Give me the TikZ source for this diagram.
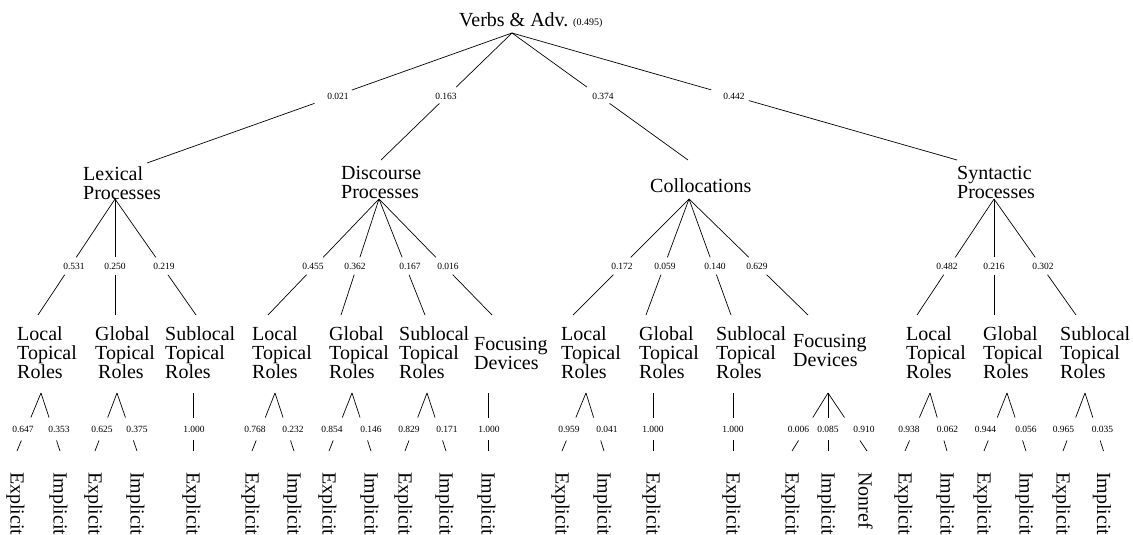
\documentclass[tikz,border=0pt]{standalone}
\usepackage{fontspec}
\setmainfont{Liberation Serif}
% level-1 branch: name, label x, prob, end name
\newcommand\branchA[4]{%
  \path (r) -- (#4) coordinate[pos=0.49] (#1m);
  \node[gapA] (#1g) at (#1m) {};
  \node[lbl] (#1) at (#2,96) {#3};
  \draw[edge] (r) -- (#1g) -- (#4);}
% level-2 branch: parent join, name, label x, prob, end x, text x, text top, text, apex x
\newcommand\branchB[9]{%
  \coordinate (#2i) at (#5,315);
  \node[txt] (#2) at (#6,#7) {#8};
  \coordinate (#2a) at (#9,393);
  \path (#1) -- (#2i) coordinate[pos=0.5776] (#2m);
  \node[gapB] (#2g) at (#2m) {};
  \node[lbl] (#2p) at (#3,266) {#4};
  \draw[edge] (#1) -- (#2g) -- (#2i);}
% level-3 branch: apex, name, label x, prob, end x, text
\newcommand\branchC[6]{%
  \coordinate (#2e) at (#5,451);
  \node[leaf] (#2) at (#5-1.5,472) {#6};
  \path (#1) -- (#2e) coordinate[pos=0.6207] (#2m);
  \node[gapC] (#2g) at (#2m) {};
  \node[lbl] (#2p) at (#3,429) {#4};
  \draw[edge] (#1) -- (#2g) -- (#2e);}
\begin{document}
\begin{tikzpicture}[x=1pt,y=-1pt,
  edge/.style={line width=0.7pt},
  txt/.style={font=\fontsize{20}{19}\selectfont, align=left, inner sep=0pt, anchor=north west},
  leaf/.style={font=\fontsize{20}{19}\selectfont, rotate=-90, anchor=west, inner sep=0pt},
  lbl/.style={font=\fontsize{9.5}{10}\selectfont, inner sep=0pt},
  gapA/.style={inner sep=0pt, minimum width=37pt, minimum height=16pt},
  gapB/.style={inner sep=0pt, minimum width=25pt, minimum height=17pt},
  gapC/.style={inner sep=0pt, minimum width=25pt, minimum height=22.5pt},
  small/.style={font=\fontsize{10}{10}\selectfont, inner sep=0pt}]
\useasboundingbox[fill=white] (0,0) rectangle (1133,535);

% root
\coordinate (r) at (512,33);
\node[txt] (rt) at (459,12.5) {Verbs \& Adv.};
\node[small, anchor=base west] (rp) at (573,26) {(0.495)};

% level 1
\node[txt] (lex) at (83,166.5) {Lexical\\Processes};
\coordinate (lexj) at (115,199);
\coordinate (lexi) at (147,163);
\branchA{p1}{338}{0.021}{lexi}

\node[txt] (dis) at (341,166.5) {Discourse\\Processes};
\coordinate (disj) at (379,199);
\coordinate (disi) at (381,160);
\branchA{p2}{446}{0.163}{disi}

\node[txt] (col) at (650,178.5) {Collocations};
\coordinate (colj) at (689,199);
\coordinate (coli) at (688,160);
\branchA{p3}{603}{0.374}{coli}

\node[txt] (syn) at (957,166.5) {Syntactic\\Processes};
\coordinate (synj) at (994,199);
\coordinate (syni) at (957,160);
\branchA{p4}{734}{0.442}{syni}

% level 2
\branchB{lexj}{lexL}{74}{0.531}{38}{17}{326.3}{Local\\Topical\\Roles}{41}
\branchB{lexj}{lexG}{115}{0.250}{115}{95}{326.3}{Global\\Topical\\\hspace*{3pt}Roles}{117}
\branchB{lexj}{lexS}{164}{0.219}{196}{165}{326.3}{Sublocal\\Topical\\Roles}{193}
\branchB{disj}{disL}{313}{0.455}{268}{252}{326.3}{Local\\Topical\\Roles}{275}
\branchB{disj}{disG}{355}{0.362}{341}{329}{326.3}{Global\\Topical\\Roles}{352}
\branchB{disj}{disS}{410}{0.167}{425}{399}{326.3}{Sublocal\\Topical\\Roles}{427}
\branchB{disj}{disF}{448}{0.016}{492}{474}{337.5}{Focusing\\Devices}{488}
\branchB{colj}{colL}{622}{0.172}{573}{561}{326.3}{Local\\Topical\\Roles}{586}
\branchB{colj}{colG}{665}{0.059}{646}{639}{326.3}{Global\\Topical\\Roles}{653}
\branchB{colj}{colS}{715}{0.140}{731}{716}{326.3}{Sublocal\\Topical\\Roles}{733}
\branchB{colj}{colF}{757}{0.629}{808}{793}{334.5}{Focusing\\Devices}{828}
\branchB{synj}{synL}{947}{0.482}{917}{906}{326.3}{Local\\Topical\\Roles}{930}
\branchB{synj}{synG}{994}{0.216}{994}{983}{326.3}{Global\\Topical\\Roles}{1007}
\branchB{synj}{synS}{1043}{0.302}{1076}{1060}{326.3}{Sublocal\\Topical\\Roles}{1085}

% level 3
\branchC{lexLa}{lexLE}{23}{0.647}{17}{Explicit}
\branchC{lexLa}{lexLI}{59}{0.353}{60}{Implicit}
\branchC{lexGa}{lexGE}{102}{0.625}{95}{Explicit}
\branchC{lexGa}{lexGI}{137}{0.375}{137}{Implicit}
\branchC{lexSa}{lexSE}{194}{1.000}{193}{Explicit}
\branchC{disLa}{disLE}{255}{0.768}{252}{Explicit}
\branchC{disLa}{disLI}{293}{0.232}{294}{Implicit}
\branchC{disGa}{disGE}{332}{0.854}{329}{Explicit}
\branchC{disGa}{disGI}{371}{0.146}{371}{Implicit}
\branchC{disSa}{disSE}{409}{0.829}{405}{Explicit}
\branchC{disSa}{disSI}{447}{0.171}{446}{Implicit}
\branchC{disFa}{disFI}{489}{1.000}{488}{Implicit}
\branchC{colLa}{colLE}{569}{0.959}{562}{Explicit}
\branchC{colLa}{colLI}{607}{0.041}{604}{Implicit}
\branchC{colGa}{colGE}{653}{1.000}{653}{Explicit}
\branchC{colSa}{colSE}{733}{1.000}{733}{Explicit}
\branchC{colFa}{colFE}{798.5}{0.006}{792}{Explicit}
\branchC{colFa}{colFI}{828}{0.085}{828}{Implicit}
\branchC{colFa}{colFN}{864}{0.910}{867}{Nonref}
\branchC{synLa}{synLE}{909}{0.938}{905}{Explicit}
\branchC{synLa}{synLI}{947.5}{0.062}{947}{Implicit}
\branchC{synGa}{synGE}{985.5}{0.944}{984}{Explicit}
\branchC{synGa}{synGI}{1026}{0.056}{1026}{Implicit}
\branchC{synSa}{synSE}{1063.5}{0.965}{1063}{Explicit}
\branchC{synSa}{synSI}{1102.5}{0.035}{1103.5}{Implicit}
\end{tikzpicture}
\end{document}
